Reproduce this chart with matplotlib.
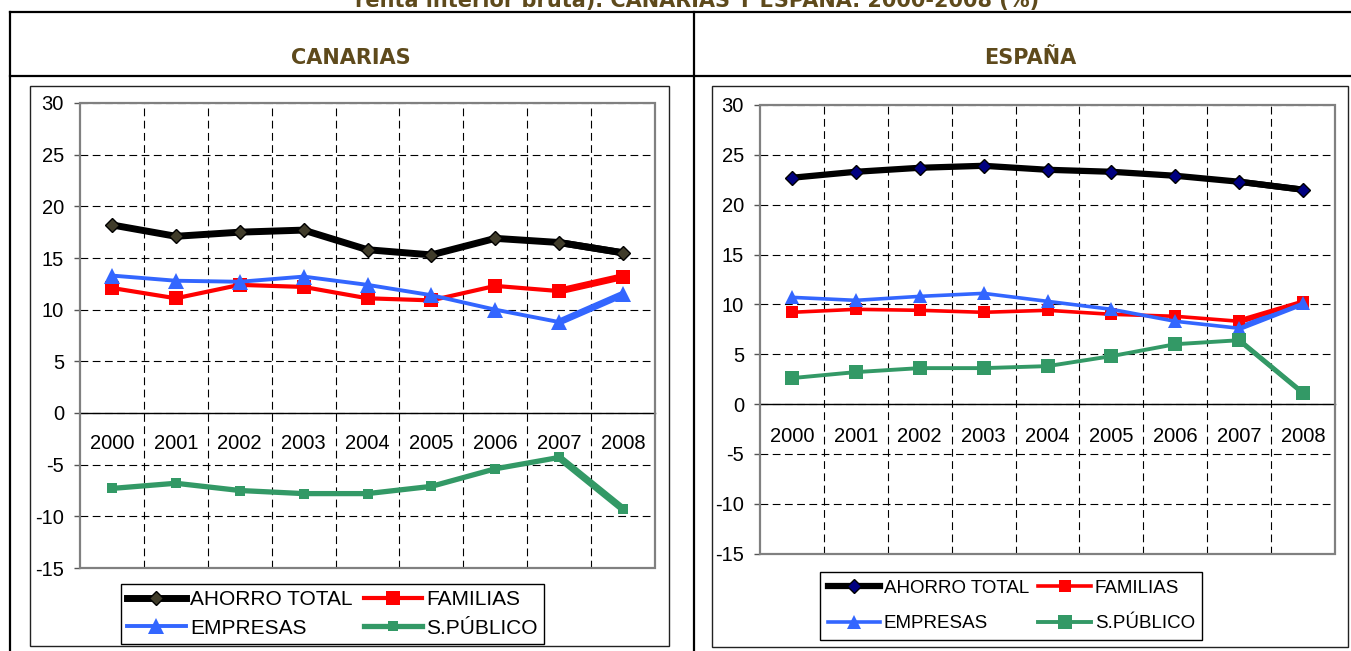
"""Tasa de ahorro por sectores, Canarias y España 2000-2008."""

import matplotlib

matplotlib.use("Agg")

import matplotlib.pyplot as plt
import numpy as np
from matplotlib.lines import Line2D
from matplotlib.patches import Rectangle

FIG_W, FIG_H = 1351, 651
HEADER_COLOR = "#5e4a1c"

YEARS = ["2000", "2001", "2002", "2003", "2004", "2005", "2006", "2007", "2008"]
SERIES_NAMES = ["AHORRO TOTAL", "FAMILIAS", "EMPRESAS", "S.PÚBLICO"]

CANARIAS_AHORRO = [18.2, 17.1, 17.5, 17.7, 15.8, 15.3, 16.9, 16.5, 15.5]
CANARIAS_FAMILIAS = [12.1, 11.1, 12.4, 12.2, 11.1, 10.9, 12.3, 11.8, 13.2]
CANARIAS_EMPRESAS = [13.3, 12.8, 12.7, 13.2, 12.4, 11.4, 10.0, 8.8, 11.5]
CANARIAS_PUBLICO = [-7.3, -6.8, -7.5, -7.8, -7.8, -7.1, -5.4, -4.3, -9.3]

ESPANA_AHORRO = [22.7, 23.3, 23.7, 23.9, 23.5, 23.3, 22.9, 22.3, 21.5]
ESPANA_FAMILIAS = [9.2, 9.5, 9.4, 9.2, 9.4, 9.0, 8.8, 8.3, 10.2]
ESPANA_EMPRESAS = [10.7, 10.4, 10.8, 11.1, 10.3, 9.5, 8.3, 7.6, 10.1]
ESPANA_PUBLICO = [2.6, 3.2, 3.6, 3.6, 3.8, 4.8, 6.0, 6.4, 1.1]

Y_TICKS = [-15, -10, -5, 0, 5, 10, 15, 20, 25, 30]

CANARIAS_STYLES = [
    dict(color="black", lw=5.0, marker="D", ms=7.5, mfc="#403c2a", mec="black", mew=1.0, tail=5.0),
    dict(color="#ff0000", lw=3.0, marker="s", ms=10, mfc="#ff0000", mec="#ff0000", mew=0, tail=5.0),
    dict(color="#3366ff", lw=2.8, marker="^", ms=11, mfc="#3366ff", mec="#3366ff", mew=0, tail=5.0),
    dict(color="#339966", lw=3.8, marker="s", ms=6.5, mfc="#339966", mec="#339966", mew=0, tail=5.2),
]
ESPANA_STYLES = [
    dict(color="black", lw=4.5, marker="D", ms=7, mfc="#000080", mec="black", mew=1.0, tail=4.5),
    dict(color="#ff0000", lw=2.6, marker="s", ms=8, mfc="#ff0000", mec="#ff0000", mew=0, tail=4.2),
    dict(color="#3366ff", lw=2.6, marker="^", ms=10, mfc="#3366ff", mec="#3366ff", mew=0, tail=4.2),
    dict(color="#339966", lw=2.8, marker="s", ms=10, mfc="#339966", mec="#339966", mew=0, tail=3.6),
]

plt.rcParams["font.family"] = ["Liberation Sans", "DejaVu Sans"]
plt.rcParams["axes.unicode_minus"] = False


def fx(px):
    return px / FIG_W


def fy(py):
    return 1 - py / FIG_H


def add_line(fig, x0, y0, x1, y1, lw=1.5, color="black"):
    fig.add_artist(Line2D([fx(x0), fx(x1)], [fy(y0), fy(y1)], lw=lw, color=color, transform=fig.transFigure))


def add_box(fig, x0, y0, x1, y1, lw=1.0, color="#222222"):
    fig.add_artist(
        Rectangle((fx(x0), fy(y1)), fx(x1) - fx(x0), fy(y0) - fy(y1), fill=False, lw=lw,
                  edgecolor=color, transform=fig.transFigure)
    )


def draw_panel(fig, rect, series, styles, xpad, legend_cfg):
    ax = fig.add_axes(rect)
    x = np.arange(len(YEARS))
    handles = []
    for name, values, st in zip(SERIES_NAMES, series, styles):
        # ultimo tramo algo mas grueso, como en el original
        ax.plot(x[-2:], values[-2:], color=st["color"], lw=st["tail"], solid_capstyle="butt", zorder=3)
        (h,) = ax.plot(
            x, values, color=st["color"], lw=st["lw"], marker=st["marker"], ms=st["ms"],
            mfc=st["mfc"], mec=st["mec"], mew=st["mew"], label=name, zorder=4,
        )
        handles.append(h)

    ax.set_xlim(-0.5, len(YEARS) - 0.5)
    ax.set_ylim(-15, 30)
    ax.set_yticks(Y_TICKS)
    ax.set_xticks(x)
    ax.set_xticklabels(YEARS)
    ax.set_xticks(np.arange(0.5, len(YEARS) - 1, 1), minor=True)
    ax.set_axisbelow(True)
    grid_kw = dict(color="black", lw=0.8, linestyle=(0, (7, 4)))
    ax.grid(which="major", axis="y", **grid_kw)
    ax.grid(which="minor", axis="x", **grid_kw)

    for side in ("top", "right", "left"):
        ax.spines[side].set_visible(False)
    ax.spines["bottom"].set_position(("data", 0))
    ax.spines["bottom"].set_color("black")
    ax.spines["bottom"].set_linewidth(1.0)
    ax.add_patch(Rectangle((0, 0), 1, 1, transform=ax.transAxes, fill=False,
                           edgecolor="#808080", lw=1.6, zorder=5, clip_on=False))

    ax.tick_params(axis="y", length=4.5, width=1, color="#555555", pad=7, labelsize=14.5)
    ax.tick_params(axis="x", which="both", length=0, pad=xpad, labelsize=14.5)

    order = [handles[0], handles[2], handles[1], handles[3]]
    leg = ax.legend(
        handles=order, labels=[h.get_label() for h in order], ncol=2, loc="upper left",
        bbox_to_anchor=(fx(legend_cfg["x"]), fy(legend_cfg["y"])), bbox_transform=fig.transFigure,
        fontsize=legend_cfg["size"], frameon=True, fancybox=False, framealpha=1, edgecolor="black",
        borderpad=legend_cfg["borderpad"], handlelength=legend_cfg["handlelength"], handletextpad=0.2,
        columnspacing=legend_cfg["colspace"], labelspacing=legend_cfg["labelspacing"],
        borderaxespad=0, numpoints=1,
    )
    leg.get_frame().set_linewidth(1.0)
    return ax


def main():
    fig = plt.figure(figsize=(FIG_W / 100, FIG_H / 100), dpi=100)
    fig.patch.set_facecolor("white")

    # tabla contenedora
    add_line(fig, 10, 12, FIG_W, 12, lw=1.6)
    add_line(fig, 10, 75.5, FIG_W, 75.5, lw=1.6)
    add_line(fig, 10, 12, 10, FIG_H, lw=1.6)
    add_line(fig, 694, 12, 694, FIG_H, lw=1.6)
    add_box(fig, 30, 86, 669, 646)
    add_box(fig, 712, 86, 1348, 647)

    fig.text(fx(697), fy(6.5), "renta interior bruta). CANARIAS Y ESPAÑA. 2000-2008 (%)",
             ha="center", va="baseline", fontsize=15, fontweight="bold", family="DejaVu Sans",
             color=HEADER_COLOR)
    fig.text(fx(351), fy(58), "CANARIAS", ha="center", va="center", fontsize=15,
             fontweight="bold", family="DejaVu Sans", color=HEADER_COLOR)
    fig.text(fx(1030), fy(58), "ESPAÑA", ha="center", va="center", fontsize=15,
             fontweight="bold", family="DejaVu Sans", color=HEADER_COLOR)

    draw_panel(
        fig,
        [fx(80), fy(568), fx(655) - fx(80), fy(103) - fy(568)],
        [CANARIAS_AHORRO, CANARIAS_FAMILIAS, CANARIAS_EMPRESAS, CANARIAS_PUBLICO],
        CANARIAS_STYLES,
        xpad=15,
        legend_cfg=dict(x=121, y=584, size=15, borderpad=0.3, handlelength=2.8,
                        colspace=0.55, labelspacing=0.45),
    )
    draw_panel(
        fig,
        [fx(760), fy(553.5), fx(1335) - fx(760), fy(105) - fy(553.5)],
        [ESPANA_AHORRO, ESPANA_FAMILIAS, ESPANA_EMPRESAS, ESPANA_PUBLICO],
        ESPANA_STYLES,
        xpad=16.5,
        legend_cfg=dict(x=820, y=572, size=13.5, borderpad=0.4, handlelength=2.8,
                        colspace=0.5, labelspacing=1.0),
    )

    fig.savefig("out.png", dpi=100)
    plt.close(fig)


if __name__ == "__main__":
    main()
